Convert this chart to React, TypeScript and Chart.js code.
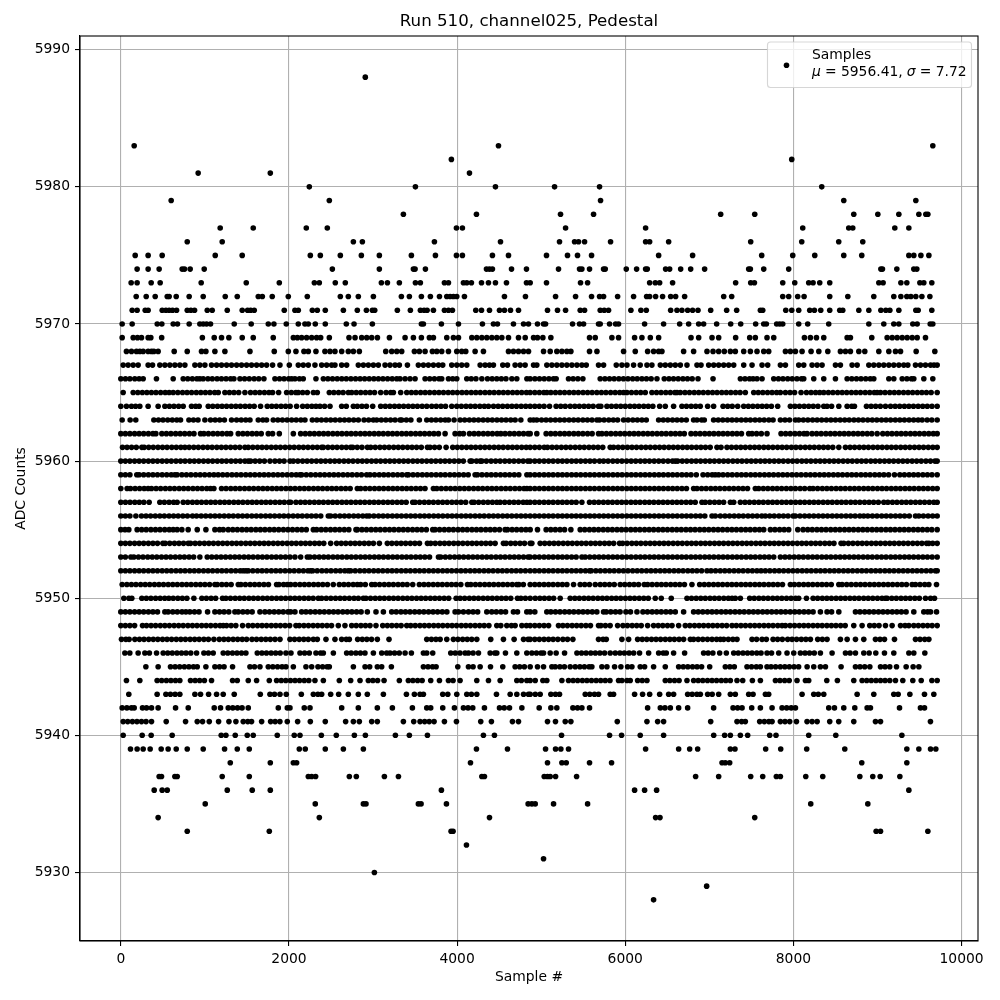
import React, { useEffect, useRef } from "react";
import { Chart, registerables } from "chart.js";

Chart.register(...registerables);

const chartTitle = "Run 510, channel025, Pedestal";
const xAxisTitle = "Sample #";
const yAxisTitle = "ADC Counts";
const legendLine1 = "Samples";
const legendMu = "5956.41";
const legendSigma = "7.72";
const xTicks = [0, 2000, 4000, 6000, 8000, 10000];
const yTicks = [5930, 5940, 5950, 5960, 5970, 5980, 5990];

const row5988 = [2908];
const row5983 = [159, 4492, 9658];
const row5982 = [3932, 7980];
const row5981 = [920, 1778, 4147];
const row5980 = [2242, 3504, 4456, 5159, 5694, 8337];
const row5979 = [599, 2480, 5706, 8599, 9456];
const row5978 = [3361, 4230, 5230, 5623, 7135, 7540, 8718, 9004, 9254, 9492, 9575, 9599];
const row5977 = [1182, 1575, 2206, 2456, 3992, 4063, 5290, 6242, 8111, 8658, 8706, 9206, 9373];
const row5976 = [790, 1206, 2766, 2873, 3730, 4516, 5218, 5397, 5444, 5516, 5825, 6242, 6290, 6516, 7492, 8099, 8539, 8825];
const row5975 = [171, 325, 492, 1123, 1444, 2254, 2373, 2611, 2861, 3075, 3456, 3742, 3992, 4063, 4420, 4611, 5063, 5313, 5432, 5599, 6397, 6801, 7623, 7992, 8254, 8599, 8813, 9373, 9432, 9516, 9611];
const row5974 = [194, 325, 456, 730, 758, 825, 992, 2516, 3075, 3480, 3500, 3623, 4349, 4385, 4420, 4647, 4825, 5206, 5456, 5484, 5575, 5742, 5762, 6012, 6135, 6242, 6262, 6480, 6528, 6659, 6778, 6944, 7468, 7488, 7647, 7944, 9040, 9059, 9230, 9432, 9468];
const row5973 = [123, 194, 361, 468, 956, 1492, 1885, 2302, 2361, 2551, 2670, 3099, 3171, 3313, 3504, 3563, 3849, 3897, 4075, 4115, 4170, 4290, 4373, 4456, 4587, 4825, 4869, 5063, 5468, 5552, 6290, 6357, 6409, 6563, 7313, 7492, 7536, 7873, 8016, 8182, 8234, 8313, 8432, 9016, 9067, 9278, 9349, 9504, 9551, 9646];
const row5972 = [183, 302, 409, 552, 575, 659, 813, 980, 1242, 1385, 1635, 1683, 1801, 1992, 2218, 2611, 2706, 2825, 3004, 3337, 3432, 3575, 3682, 3790, 3877, 3917, 3956, 3996, 4087, 4563, 4813, 5171, 5409, 5599, 5694, 5742, 5909, 6099, 6254, 6290, 6361, 6444, 6540, 6599, 6706, 7171, 7266, 7873, 7944, 8051, 8127, 8432, 8647, 8956, 9194, 9278, 9349, 9397, 9456, 9528, 9623];
const row5971 = [135, 194, 290, 325, 492, 536, 575, 615, 663, 790, 833, 877, 1028, 1087, 1266, 1444, 1508, 1544, 1587, 1944, 2071, 2111, 2278, 2337, 2432, 2647, 2813, 2921, 2992, 3020, 3289, 3444, 3563, 3607, 3643, 3718, 3849, 3897, 3944, 4222, 4290, 4385, 4504, 4563, 4635, 4730, 5075, 5194, 5290, 5464, 5516, 5702, 5750, 5801, 6067, 6186, 6250, 6540, 6615, 6674, 6742, 6801, 6865, 7016, 7206, 7325, 7607, 7635, 7909, 7980, 8063, 8194, 8250, 8325, 8432, 8551, 8587, 8778, 8897, 9040, 9099, 9147, 9254, 9456, 9484, 9646];
const row5970 = [16, 135, 433, 488, 623, 674, 813, 940, 980, 1020, 1067, 1349, 1551, 1754, 1821, 1968, 2111, 2190, 2230, 2313, 2432, 2682, 2774, 2992, 3575, 3599, 3813, 4016, 4301, 4432, 4480, 4670, 4790, 4849, 4956, 5028, 5052, 5373, 5456, 5504, 5682, 5702, 5813, 5885, 5920, 6230, 6456, 6647, 6754, 6873, 6932, 7087, 7254, 7373, 7551, 7647, 7678, 7801, 7837, 7873, 8063, 8170, 8420, 8897, 9075, 9194, 9254, 9420, 9472, 9627, 9658];
const row5969 = [16, 147, 198, 246, 325, 357, 486, 970, 1111, 1198, 1285, 1444, 1575, 1813, 2052, 2100, 2151, 2210, 2270, 2329, 2377, 2480, 2714, 2786, 2865, 2925, 2984, 3052, 3195, 3381, 3480, 3575, 3670, 3718, 3877, 3956, 4016, 4175, 4234, 4294, 4353, 4413, 4472, 4532, 4611, 4730, 4810, 4909, 4956, 5020, 5115, 5575, 5643, 5841, 5920, 6111, 6198, 6298, 6397, 6782, 6873, 7032, 7111, 7313, 7480, 7547, 7686, 7766, 8131, 8202, 8274, 8361, 8639, 8678, 8932, 9115, 9175, 9234, 9294, 9353, 9413, 9472, 9571];
const row5968 = [67, 127, 186, 226, 266, 325, 365, 393, 444, 635, 790, 960, 1012, 1119, 1238, 1536, 1825, 1992, 2083, 2178, 2230, 2321, 2428, 2488, 2547, 2627, 2706, 2766, 2837, 3151, 3222, 3282, 3341, 3492, 3551, 3619, 3706, 3758, 3817, 3897, 3996, 4055, 4103, 4214, 4313, 4611, 4670, 4730, 4790, 4849, 5028, 5107, 5186, 5246, 5305, 5353, 5575, 5663, 5980, 6119, 6266, 6337, 6397, 6436, 6694, 6813, 6972, 7044, 7111, 7178, 7250, 7309, 7409, 7488, 7567, 7647, 7706, 7905, 7964, 8024, 8103, 8210, 8302, 8409, 8559, 8619, 8678, 8778, 8849, 9016, 9135, 9214, 9274, 9460, 9682];
const row5967 = [28, 87, 147, 206, 325, 377, 464, 524, 583, 643, 702, 762, 881, 940, 1000, 1079, 1139, 1198, 1258, 1317, 1377, 1436, 1496, 1555, 1615, 1675, 1734, 1805, 1893, 2004, 2111, 2170, 2230, 2309, 2389, 2448, 2508, 2547, 2627, 2686, 2825, 2885, 2944, 3004, 3063, 3143, 3202, 3262, 3313, 3409, 3539, 3599, 3658, 3718, 3778, 3829, 3936, 3996, 4055, 4115, 4274, 4333, 4385, 4432, 4543, 4599, 4690, 4750, 4809, 4909, 4948, 5067, 5127, 5186, 5246, 5305, 5365, 5425, 5484, 5536, 5682, 5742, 5893, 5960, 6020, 6099, 6178, 6258, 6317, 6417, 6476, 6536, 6595, 6655, 6734, 6853, 6901, 6992, 7052, 7111, 7171, 7230, 7290, 7409, 7508, 7627, 7694, 7845, 7905, 8063, 8123, 8222, 8282, 8341, 8500, 8559, 8698, 8758, 8897, 8956, 9016, 9075, 9135, 9194, 9254, 9313, 9361, 9452, 9512, 9571, 9631, 9672, 9710];
const row5966 = [0, 55, 108, 166, 218, 266, 424, 623, 742, 796, 851, 905, 940, 980, 1036, 1088, 1145, 1197, 1252, 1306, 1345, 1417, 1472, 1528, 1586, 1641, 1702, 1833, 1888, 1942, 1997, 2032, 2071, 2125, 2170, 2321, 2409, 2463, 2518, 2574, 2628, 2682, 2737, 2792, 2846, 2900, 2955, 3010, 3064, 3118, 3173, 3228, 3282, 3321, 3381, 3440, 3500, 3619, 3674, 3730, 3785, 3817, 3897, 3948, 3996, 4115, 4168, 4224, 4294, 4361, 4417, 4472, 4526, 4581, 4651, 4710, 4830, 4869, 4925, 4980, 5036, 5092, 5146, 5178, 5325, 5380, 5436, 5496, 5702, 5758, 5813, 5868, 5924, 5978, 6032, 6088, 6142, 6198, 6252, 6308, 6377, 6464, 6520, 6574, 6630, 6686, 6740, 6796, 6865, 7044, 7369, 7424, 7478, 7520, 7567, 7627, 7766, 7822, 7876, 7932, 7986, 8042, 8096, 8123, 8242, 8361, 8500, 8639, 8694, 8750, 8804, 8860, 8914, 8956, 9135, 9194, 9294, 9350, 9404, 9432, 9551, 9658];
const row5965 = [28, 147, 202, 256, 310, 364, 418, 474, 528, 575, 623, 678, 734, 788, 842, 898, 952, 1006, 1060, 1116, 1159, 1238, 1292, 1346, 1402, 1476, 1543, 1598, 1652, 1708, 1762, 1805, 1877, 1972, 2028, 2082, 2111, 2163, 2218, 2290, 2337, 2480, 2534, 2590, 2644, 2706, 2746, 2800, 2854, 2910, 2964, 3018, 3091, 3155, 3210, 3242, 3329, 3401, 3456, 3510, 3566, 3620, 3674, 3730, 3784, 3838, 3894, 3948, 4002, 4058, 4112, 4168, 4222, 4276, 4332, 4386, 4440, 4496, 4550, 4604, 4660, 4714, 4768, 4824, 4869, 4924, 4978, 5032, 5067, 5115, 5170, 5224, 5278, 5334, 5388, 5442, 5498, 5552, 5606, 5662, 5716, 5770, 5826, 5880, 5934, 5980, 6020, 6074, 6130, 6184, 6238, 6317, 6372, 6426, 6482, 6536, 6590, 6615, 6655, 6710, 6764, 6820, 6874, 6928, 6984, 7038, 7092, 7148, 7202, 7256, 7312, 7366, 7428, 7528, 7582, 7636, 7692, 7746, 7800, 7845, 7905, 7960, 8014, 8091, 8155, 8210, 8264, 8313, 8361, 8416, 8470, 8526, 8580, 8634, 8690, 8744, 8798, 8854, 8908, 8962, 8996, 9036, 9090, 9146, 9200, 9254, 9310, 9364, 9418, 9474, 9528, 9582, 9638, 9710];
const row5964 = [0, 67, 127, 176, 226, 325, 444, 524, 578, 632, 688, 742, 841, 890, 932, 1040, 1094, 1150, 1204, 1258, 1314, 1368, 1422, 1478, 1532, 1586, 1662, 1742, 1796, 1850, 1906, 1960, 2014, 2091, 2163, 2218, 2272, 2321, 2369, 2424, 2488, 2627, 2682, 2766, 2813, 2868, 2922, 2996, 3091, 3146, 3200, 3256, 3310, 3364, 3420, 3474, 3528, 3584, 3639, 3698, 3752, 3808, 3862, 3936, 3996, 4050, 4106, 4160, 4214, 4270, 4324, 4373, 4433, 4488, 4542, 4598, 4652, 4706, 4762, 4816, 4869, 4924, 4978, 5034, 5099, 5178, 5232, 5286, 5345, 5400, 5454, 5510, 5564, 5618, 5682, 5710, 5782, 5836, 5892, 5946, 6000, 6056, 6110, 6164, 6220, 6274, 6328, 6409, 6476, 6575, 6674, 6728, 6784, 6838, 6892, 6980, 7051, 7163, 7218, 7272, 7337, 7409, 7464, 7518, 7574, 7628, 7682, 7738, 7813, 7964, 8018, 8072, 8128, 8182, 8236, 8292, 8361, 8400, 8454, 8540, 8639, 8694, 8726, 8869, 8924, 8978, 9034, 9095, 9155, 9210, 9264, 9320, 9374, 9428, 9484, 9538, 9592, 9648, 9710];
const row5963 = [16, 111, 178, 393, 448, 502, 558, 612, 666, 710, 810, 864, 918, 1000, 1067, 1122, 1176, 1232, 1317, 1377, 1432, 1486, 1536, 1635, 1690, 1734, 1813, 1868, 1922, 1978, 2032, 2086, 2142, 2190, 2278, 2332, 2386, 2442, 2496, 2550, 2606, 2660, 2714, 2770, 2825, 2893, 2948, 3004, 3044, 3098, 3152, 3208, 3262, 3321, 3341, 3396, 3450, 3551, 3639, 3694, 3748, 3804, 3858, 3897, 3964, 4036, 4090, 4146, 4200, 4254, 4310, 4364, 4418, 4474, 4528, 4582, 4638, 4690, 4758, 4869, 4909, 4948, 5004, 5058, 5112, 5168, 5222, 5276, 5332, 5386, 5440, 5496, 5550, 5604, 5663, 5694, 5748, 5804, 5858, 5909, 5980, 6034, 6090, 6144, 6198, 6250, 6397, 6452, 6506, 6562, 6616, 6670, 6726, 6813, 6853, 6908, 6940, 7051, 7106, 7160, 7216, 7270, 7324, 7380, 7434, 7488, 7544, 7598, 7652, 7708, 7758, 7845, 7900, 7954, 8024, 8063, 8118, 8172, 8228, 8282, 8336, 8392, 8446, 8500, 8556, 8610, 8664, 8720, 8774, 8828, 8884, 8938, 8992, 9048, 9102, 9156, 9212, 9266, 9320, 9376, 9430, 9484, 9531, 9591, 9646, 9710];
const row5962 = [0, 54, 108, 164, 218, 272, 328, 382, 417, 488, 542, 596, 652, 706, 760, 816, 870, 948, 988, 1042, 1098, 1152, 1206, 1262, 1306, 1397, 1452, 1506, 1562, 1616, 1670, 1754, 1805, 1885, 2052, 2139, 2194, 2248, 2302, 2358, 2412, 2466, 2522, 2576, 2630, 2686, 2740, 2794, 2850, 2904, 2958, 3014, 3068, 3122, 3178, 3232, 3286, 3342, 3396, 3450, 3506, 3560, 3614, 3670, 3724, 3778, 3857, 3976, 4030, 4075, 4147, 4202, 4256, 4312, 4366, 4420, 4476, 4520, 4571, 4626, 4680, 4736, 4790, 4844, 4869, 4948, 5059, 5114, 5168, 5224, 5278, 5332, 5388, 5442, 5496, 5552, 5606, 5682, 5722, 5776, 5830, 5886, 5940, 5994, 6050, 6104, 6158, 6214, 6268, 6322, 6378, 6432, 6486, 6542, 6596, 6650, 6702, 6782, 6836, 6890, 6946, 7000, 7054, 7110, 7164, 7218, 7274, 7328, 7382, 7468, 7508, 7562, 7618, 7686, 7853, 7908, 7962, 8018, 8072, 8126, 8162, 8222, 8276, 8330, 8386, 8440, 8494, 8550, 8604, 8658, 8714, 8768, 8822, 8878, 8932, 8996, 9063, 9118, 9172, 9228, 9282, 9336, 9392, 9446, 9500, 9556, 9610, 9664, 9710];
const row5961 = [20, 74, 128, 184, 250, 278, 332, 386, 442, 496, 550, 606, 660, 714, 762, 813, 868, 922, 978, 1032, 1086, 1142, 1196, 1250, 1306, 1360, 1414, 1476, 1516, 1570, 1626, 1680, 1734, 1790, 1844, 1898, 1954, 2008, 2062, 2118, 2172, 2226, 2282, 2336, 2389, 2409, 2464, 2518, 2572, 2628, 2682, 2734, 2758, 2812, 2868, 2933, 2972, 3026, 3082, 3136, 3190, 3246, 3300, 3354, 3410, 3464, 3518, 3574, 3647, 3678, 3732, 3788, 3869, 3948, 4002, 4056, 4112, 4166, 4220, 4276, 4330, 4384, 4440, 4494, 4548, 4604, 4658, 4712, 4768, 4822, 4869, 4924, 4978, 5036, 5075, 5130, 5184, 5240, 5294, 5348, 5404, 5458, 5512, 5568, 5622, 5676, 5732, 5821, 5861, 5916, 5970, 6026, 6080, 6134, 6190, 6244, 6298, 6354, 6408, 6462, 6518, 6572, 6626, 6682, 6736, 6790, 6846, 6900, 6954, 7010, 7091, 7139, 7210, 7264, 7320, 7374, 7428, 7484, 7538, 7592, 7648, 7702, 7756, 7812, 7866, 7920, 7976, 8030, 8084, 8140, 8194, 8248, 8304, 8358, 8412, 8468, 8540, 8619, 8674, 8728, 8784, 8838, 8892, 8948, 9002, 9056, 9112, 9166, 9220, 9276, 9330, 9384, 9440, 9494, 9548, 9604, 9658, 9710];
const row5960 = [0, 54, 108, 164, 218, 272, 328, 382, 436, 492, 546, 600, 656, 710, 764, 820, 874, 928, 984, 1038, 1092, 1148, 1202, 1256, 1312, 1366, 1420, 1476, 1516, 1544, 1598, 1652, 1708, 1774, 1833, 1888, 1942, 2012, 2052, 2106, 2162, 2216, 2270, 2326, 2380, 2434, 2490, 2544, 2598, 2654, 2708, 2762, 2818, 2872, 2926, 2982, 3036, 3090, 3146, 3200, 3254, 3310, 3364, 3418, 3474, 3528, 3582, 3638, 3692, 3746, 3802, 3856, 3910, 3966, 4020, 4074, 4155, 4175, 4230, 4274, 4294, 4348, 4404, 4458, 4512, 4568, 4622, 4676, 4732, 4786, 4840, 4869, 4924, 4978, 5034, 5088, 5142, 5198, 5252, 5306, 5362, 5416, 5470, 5526, 5580, 5634, 5694, 5742, 5796, 5852, 5906, 5960, 6016, 6070, 6124, 6180, 6234, 6288, 6344, 6398, 6452, 6508, 6562, 6595, 6623, 6678, 6732, 6788, 6842, 6896, 6952, 7006, 7060, 7116, 7170, 7224, 7280, 7334, 7388, 7444, 7498, 7552, 7608, 7662, 7716, 7772, 7826, 7880, 7936, 7990, 8044, 8100, 8154, 8208, 8264, 8318, 8372, 8428, 8482, 8536, 8592, 8646, 8700, 8756, 8810, 8864, 8920, 8974, 9028, 9084, 9138, 9192, 9248, 9302, 9356, 9412, 9466, 9520, 9576, 9630, 9684, 9710];
const row5959 = [0, 54, 108, 190, 218, 272, 328, 382, 436, 492, 546, 600, 643, 670, 726, 780, 834, 890, 944, 998, 1054, 1107, 1158, 1212, 1266, 1322, 1376, 1430, 1486, 1540, 1594, 1650, 1704, 1758, 1814, 1868, 1922, 1978, 2032, 2086, 2131, 2151, 2206, 2260, 2316, 2370, 2424, 2480, 2534, 2588, 2644, 2698, 2752, 2808, 2862, 2924, 2964, 3018, 3074, 3128, 3182, 3238, 3292, 3346, 3401, 3421, 3476, 3530, 3586, 3640, 3694, 3750, 3804, 3858, 3914, 3968, 4022, 4078, 4132, 4214, 4242, 4296, 4352, 4406, 4460, 4516, 4570, 4624, 4680, 4734, 4830, 4869, 4924, 4978, 5034, 5088, 5142, 5198, 5252, 5306, 5362, 5416, 5470, 5526, 5580, 5634, 5690, 5744, 5798, 5854, 5908, 5962, 6018, 6072, 6126, 6182, 6236, 6290, 6346, 6400, 6454, 6510, 6564, 6618, 6674, 6728, 6782, 6845, 6925, 6980, 7034, 7071, 7111, 7163, 7218, 7272, 7328, 7382, 7436, 7492, 7546, 7600, 7656, 7710, 7764, 7820, 7874, 7928, 7984, 8038, 8092, 8148, 8202, 8256, 8312, 8366, 8420, 8476, 8530, 8584, 8640, 8694, 8748, 8804, 8858, 8912, 8968, 9022, 9076, 9132, 9202, 9266, 9320, 9376, 9430, 9484, 9540, 9594, 9648, 9710];
const row5958 = [0, 75, 115, 170, 224, 278, 325, 365, 420, 474, 530, 584, 638, 694, 748, 802, 858, 912, 966, 1022, 1067, 1107, 1198, 1252, 1308, 1362, 1416, 1472, 1526, 1580, 1636, 1690, 1744, 1800, 1854, 1908, 1964, 2018, 2072, 2128, 2182, 2236, 2292, 2346, 2400, 2456, 2510, 2564, 2620, 2674, 2728, 2813, 2853, 2908, 2962, 3018, 3072, 3126, 3182, 3236, 3290, 3346, 3400, 3454, 3510, 3564, 3618, 3718, 3758, 3812, 3868, 3922, 3976, 4032, 4086, 4140, 4196, 4250, 4304, 4360, 4414, 4468, 4524, 4578, 4632, 4688, 4742, 4796, 4830, 4869, 4924, 4978, 5034, 5088, 5142, 5198, 5252, 5306, 5362, 5416, 5470, 5526, 5580, 5634, 5690, 5744, 5798, 5854, 5908, 5962, 6018, 6072, 6126, 6182, 6236, 6290, 6346, 6400, 6454, 6510, 6564, 6618, 6674, 6728, 6813, 6853, 6908, 6962, 7018, 7072, 7126, 7182, 7236, 7290, 7346, 7400, 7454, 7547, 7587, 7642, 7696, 7752, 7806, 7860, 7916, 7970, 8024, 8080, 8134, 8194, 8234, 8288, 8344, 8398, 8452, 8508, 8562, 8616, 8672, 8726, 8780, 8836, 8890, 8944, 9000, 9054, 9108, 9164, 9218, 9272, 9328, 9382, 9436, 9492, 9546, 9600, 9656, 9710];
const row5957 = [0, 55, 110, 166, 220, 274, 337, 464, 518, 574, 628, 670, 742, 796, 852, 906, 960, 1016, 1070, 1124, 1180, 1234, 1288, 1344, 1398, 1452, 1508, 1562, 1616, 1672, 1726, 1780, 1836, 1890, 1944, 2000, 2020, 2083, 2138, 2192, 2246, 2302, 2356, 2410, 2466, 2520, 2574, 2630, 2684, 2738, 2794, 2848, 2902, 2958, 3012, 3066, 3122, 3176, 3230, 3286, 3340, 3394, 3472, 3500, 3554, 3610, 3664, 3718, 3774, 3828, 3882, 3938, 3992, 4046, 4102, 4175, 4202, 4256, 4312, 4366, 4420, 4472, 4512, 4566, 4622, 4676, 4730, 4786, 4830, 4869, 4924, 4978, 5034, 5088, 5142, 5198, 5252, 5306, 5362, 5416, 5484, 5575, 5630, 5684, 5740, 5794, 5848, 5904, 5958, 6012, 6068, 6122, 6176, 6232, 6286, 6340, 6396, 6450, 6504, 6560, 6614, 6668, 6724, 6778, 6832, 6912, 6952, 7006, 7062, 7116, 7170, 7250, 7290, 7369, 7424, 7478, 7534, 7588, 7642, 7698, 7752, 7806, 7862, 7916, 7970, 8026, 8080, 8134, 8190, 8244, 8298, 8354, 8408, 8462, 8518, 8572, 8626, 8682, 8736, 8790, 8846, 8900, 8954, 9010, 9075, 9123, 9178, 9232, 9288, 9342, 9396, 9452, 9506, 9560, 9616, 9670, 9710];
const row5956 = [0, 54, 108, 179, 246, 300, 354, 410, 464, 518, 574, 628, 682, 738, 792, 853, 901, 956, 1010, 1066, 1120, 1174, 1230, 1284, 1338, 1394, 1448, 1502, 1558, 1612, 1666, 1722, 1776, 1830, 1886, 1940, 1994, 2050, 2104, 2158, 2214, 2268, 2322, 2378, 2468, 2496, 2550, 2606, 2660, 2714, 2770, 2824, 2878, 2925, 2956, 3010, 3066, 3120, 3174, 3230, 3284, 3338, 3394, 3448, 3502, 3558, 3612, 3666, 3722, 3776, 3830, 3886, 3940, 3994, 4050, 4104, 4158, 4214, 4268, 4322, 4378, 4432, 4486, 4542, 4596, 4650, 4706, 4760, 4814, 4869, 4924, 4978, 5034, 5088, 5142, 5198, 5252, 5306, 5362, 5416, 5470, 5526, 5580, 5634, 5690, 5744, 5798, 5854, 5908, 5962, 6018, 6072, 6126, 6182, 6236, 6290, 6346, 6400, 6454, 6510, 6564, 6618, 6674, 6728, 6782, 6838, 6892, 6946, 7032, 7071, 7131, 7186, 7240, 7296, 7350, 7404, 7460, 7514, 7568, 7624, 7666, 7718, 7772, 7828, 7882, 7936, 7996, 8024, 8078, 8134, 8188, 8242, 8298, 8352, 8406, 8462, 8516, 8570, 8626, 8680, 8734, 8790, 8837, 8885, 8940, 8994, 9050, 9104, 9158, 9214, 9268, 9322, 9378, 9452, 9492, 9546, 9602, 9656, 9710];
const row5955 = [0, 50, 95, 194, 248, 302, 358, 412, 466, 522, 576, 623, 670, 726, 801, 909, 1012, 1119, 1174, 1218, 1278, 1332, 1386, 1442, 1496, 1550, 1606, 1660, 1714, 1770, 1824, 1878, 1934, 1988, 2042, 2098, 2152, 2206, 2290, 2329, 2384, 2438, 2494, 2548, 2602, 2658, 2712, 2797, 2813, 2868, 2922, 2978, 3032, 3086, 3142, 3196, 3250, 3306, 3360, 3414, 3470, 3524, 3578, 3634, 3710, 3738, 3792, 3848, 3902, 3956, 4012, 4066, 4120, 4176, 4230, 4284, 4340, 4394, 4448, 4504, 4571, 4599, 4654, 4708, 4764, 4818, 4869, 4956, 5059, 5114, 5168, 5224, 5278, 5353, 5464, 5518, 5574, 5628, 5682, 5738, 5792, 5846, 5902, 5956, 6010, 6066, 6120, 6174, 6230, 6284, 6338, 6394, 6448, 6502, 6558, 6612, 6666, 6722, 6776, 6830, 6886, 6940, 6994, 7050, 7104, 7158, 7214, 7268, 7322, 7378, 7432, 7486, 7542, 7596, 7647, 7726, 7780, 7836, 7890, 7944, 8052, 8115, 8170, 8224, 8280, 8334, 8388, 8444, 8498, 8552, 8608, 8662, 8716, 8772, 8826, 8880, 8936, 8990, 9044, 9100, 9154, 9208, 9264, 9318, 9372, 9428, 9482, 9536, 9592, 9646, 9710];
const row5954 = [0, 54, 108, 164, 218, 272, 328, 382, 436, 500, 528, 582, 638, 692, 746, 802, 829, 884, 938, 994, 1048, 1102, 1158, 1212, 1266, 1322, 1376, 1430, 1486, 1540, 1594, 1650, 1704, 1758, 1814, 1868, 1922, 1978, 2032, 2086, 2142, 2196, 2250, 2306, 2360, 2414, 2496, 2567, 2622, 2676, 2732, 2786, 2840, 2896, 2950, 3004, 3075, 3170, 3224, 3280, 3334, 3388, 3444, 3498, 3552, 3647, 3686, 3740, 3796, 3850, 3904, 3960, 4014, 4068, 4124, 4178, 4232, 4288, 4342, 4396, 4452, 4551, 4583, 4638, 4692, 4748, 4802, 4869, 4889, 4988, 5042, 5098, 5152, 5206, 5262, 5316, 5370, 5426, 5480, 5534, 5590, 5644, 5698, 5754, 5808, 5862, 5932, 5968, 6022, 6078, 6132, 6186, 6242, 6296, 6350, 6406, 6460, 6514, 6570, 6624, 6678, 6734, 6788, 6842, 6898, 6952, 7006, 7062, 7116, 7170, 7226, 7280, 7334, 7390, 7444, 7498, 7554, 7608, 7662, 7718, 7772, 7826, 7882, 7936, 7990, 8046, 8100, 8154, 8210, 8264, 8318, 8374, 8428, 8482, 8567, 8599, 8654, 8708, 8764, 8818, 8872, 8928, 8982, 9036, 9092, 9146, 9200, 9256, 9310, 9364, 9420, 9474, 9528, 9584, 9611, 9656, 9710];
const row5953 = [0, 54, 119, 155, 210, 264, 320, 374, 428, 484, 538, 592, 648, 702, 756, 812, 866, 940, 1028, 1082, 1138, 1192, 1246, 1302, 1356, 1410, 1466, 1520, 1574, 1630, 1684, 1738, 1794, 1848, 1902, 1958, 2012, 2071, 2139, 2218, 2250, 2304, 2360, 2414, 2468, 2524, 2578, 2632, 2688, 2742, 2796, 2852, 2906, 2960, 3016, 3070, 3124, 3180, 3234, 3288, 3344, 3398, 3452, 3508, 3562, 3616, 3672, 3778, 3805, 3860, 3914, 3970, 4024, 4078, 4134, 4188, 4242, 4298, 4352, 4406, 4462, 4516, 4570, 4626, 4680, 4734, 4790, 4844, 4869, 4924, 4978, 5034, 5088, 5142, 5198, 5252, 5306, 5362, 5416, 5484, 5524, 5578, 5634, 5688, 5742, 5798, 5852, 5906, 5962, 6016, 6070, 6126, 6180, 6234, 6290, 6344, 6398, 6454, 6508, 6562, 6618, 6672, 6726, 6782, 6836, 6890, 6946, 7000, 7054, 7110, 7164, 7218, 7274, 7328, 7382, 7438, 7492, 7546, 7602, 7656, 7710, 7766, 7845, 7900, 7954, 8010, 8064, 8118, 8174, 8228, 8282, 8338, 8392, 8446, 8502, 8556, 8610, 8666, 8720, 8774, 8830, 8884, 8938, 8994, 9048, 9102, 9158, 9212, 9266, 9322, 9376, 9430, 9486, 9540, 9594, 9650, 9710];
const row5952 = [0, 54, 108, 164, 218, 272, 328, 382, 436, 492, 546, 600, 656, 710, 764, 820, 874, 928, 984, 1038, 1092, 1148, 1202, 1256, 1312, 1366, 1420, 1456, 1488, 1516, 1570, 1626, 1680, 1734, 1790, 1844, 1898, 1954, 2008, 2062, 2118, 2172, 2226, 2258, 2282, 2336, 2392, 2446, 2500, 2556, 2610, 2664, 2706, 2734, 2788, 2844, 2898, 2952, 3008, 3062, 3116, 3172, 3226, 3280, 3336, 3390, 3444, 3500, 3554, 3608, 3664, 3718, 3772, 3828, 3882, 3936, 3992, 4046, 4100, 4156, 4210, 4264, 4320, 4374, 4428, 4484, 4538, 4592, 4648, 4702, 4756, 4812, 4869, 4924, 4978, 5034, 5088, 5142, 5198, 5252, 5306, 5362, 5416, 5470, 5526, 5575, 5595, 5650, 5704, 5760, 5814, 5868, 5924, 5978, 6032, 6088, 6142, 6196, 6252, 6306, 6360, 6416, 6470, 6524, 6580, 6634, 6688, 6744, 6798, 6852, 6908, 6972, 7020, 7074, 7130, 7184, 7238, 7294, 7348, 7402, 7458, 7512, 7566, 7615, 7666, 7720, 7776, 7830, 7884, 7940, 7994, 8048, 8104, 8158, 8212, 8268, 8322, 8376, 8432, 8486, 8540, 8596, 8650, 8704, 8760, 8814, 8868, 8924, 8978, 9032, 9088, 9142, 9196, 9252, 9306, 9360, 9416, 9470, 9524, 9580, 9634, 9688, 9710];
const row5951 = [16, 72, 126, 180, 236, 290, 344, 400, 454, 508, 564, 618, 672, 728, 782, 836, 892, 946, 1000, 1056, 1119, 1147, 1202, 1256, 1312, 1397, 1428, 1482, 1538, 1592, 1646, 1702, 1756, 1853, 1881, 1936, 1980, 2020, 2074, 2130, 2184, 2238, 2294, 2348, 2402, 2458, 2527, 2599, 2654, 2708, 2764, 2813, 2853, 2908, 2984, 3024, 3078, 3134, 3188, 3242, 3298, 3352, 3406, 3472, 3551, 3606, 3660, 3716, 3770, 3824, 3880, 3934, 3988, 4044, 4123, 4163, 4218, 4272, 4328, 4382, 4436, 4492, 4546, 4600, 4656, 4710, 4734, 4788, 4869, 4924, 4978, 5034, 5088, 5142, 5198, 5252, 5306, 5385, 5464, 5518, 5574, 5643, 5702, 5756, 5812, 5869, 5940, 5994, 6050, 6104, 6158, 6226, 6266, 6320, 6376, 6430, 6484, 6540, 6594, 6648, 6704, 6793, 6885, 6940, 6994, 7050, 7104, 7158, 7214, 7268, 7322, 7378, 7432, 7486, 7542, 7596, 7650, 7706, 7760, 7814, 7870, 7964, 8012, 8066, 8122, 8176, 8230, 8286, 8340, 8394, 8450, 8540, 8579, 8634, 8688, 8744, 8798, 8852, 8908, 8962, 9016, 9072, 9126, 9180, 9236, 9290, 9344, 9412, 9452, 9506, 9562, 9611, 9702];
const row5950 = [36, 96, 131, 250, 304, 358, 414, 468, 522, 571, 623, 678, 732, 786, 869, 964, 1018, 1074, 1128, 1210, 1250, 1304, 1360, 1414, 1468, 1524, 1578, 1632, 1688, 1742, 1796, 1852, 1906, 1960, 2016, 2070, 2124, 2180, 2234, 2288, 2349, 2389, 2444, 2498, 2554, 2608, 2662, 2718, 2774, 2825, 2885, 2916, 2970, 3026, 3080, 3134, 3190, 3244, 3298, 3354, 3408, 3462, 3518, 3572, 3626, 3682, 3736, 3790, 3846, 3900, 3988, 4036, 4090, 4146, 4200, 4254, 4310, 4364, 4418, 4474, 4528, 4582, 4638, 4718, 4758, 4812, 4869, 4929, 4984, 5038, 5094, 5148, 5226, 5345, 5400, 5454, 5510, 5564, 5618, 5674, 5728, 5782, 5838, 5892, 5946, 6002, 6056, 6110, 6166, 6220, 6274, 6357, 6428, 6547, 6734, 6788, 6844, 6898, 6952, 7008, 7062, 7116, 7172, 7226, 7270, 7309, 7369, 7480, 7534, 7590, 7644, 7698, 7754, 7808, 7862, 7918, 7972, 8026, 8063, 8155, 8234, 8288, 8344, 8398, 8452, 8508, 8562, 8616, 8672, 8726, 8780, 8836, 8890, 8944, 9000, 9054, 9095, 9115, 9170, 9224, 9280, 9334, 9388, 9444, 9498, 9571, 9631, 9678];
const row5949 = [0, 54, 108, 164, 218, 272, 328, 382, 436, 524, 563, 618, 672, 728, 774, 821, 876, 930, 1032, 1119, 1174, 1228, 1284, 1357, 1397, 1452, 1506, 1562, 1655, 1714, 1768, 1824, 1878, 1932, 1988, 2020, 2071, 2151, 2202, 2256, 2312, 2366, 2420, 2476, 2530, 2584, 2640, 2694, 2748, 2804, 2858, 2932, 3035, 3123, 3222, 3276, 3332, 3386, 3440, 3496, 3550, 3604, 3660, 3714, 3768, 3824, 3878, 3976, 4016, 4075, 4135, 4190, 4244, 4353, 4412, 4466, 4522, 4576, 4670, 4718, 4829, 4869, 4924, 5067, 5115, 5170, 5224, 5280, 5334, 5388, 5444, 5498, 5552, 5608, 5662, 5742, 5774, 5828, 5884, 5938, 6008, 6062, 6139, 6210, 6264, 6320, 6374, 6428, 6484, 6538, 6595, 6694, 6813, 6868, 6922, 6978, 7032, 7086, 7142, 7196, 7250, 7306, 7360, 7414, 7470, 7524, 7578, 7634, 7688, 7742, 7798, 7852, 7906, 7962, 8016, 8070, 8126, 8180, 8234, 8321, 8400, 8454, 8540, 8738, 8792, 8848, 8902, 8956, 9012, 9066, 9120, 9176, 9230, 9284, 9340, 9432, 9551, 9596, 9631, 9702];
const row5948 = [0, 54, 108, 164, 258, 306, 360, 414, 470, 524, 578, 634, 688, 742, 798, 852, 906, 962, 1016, 1070, 1126, 1180, 1218, 1258, 1312, 1368, 1448, 1516, 1570, 1626, 1680, 1734, 1790, 1844, 1898, 1954, 2008, 2083, 2123, 2178, 2232, 2288, 2342, 2396, 2452, 2506, 2587, 2666, 2746, 2800, 2856, 2910, 2964, 3035, 3115, 3170, 3224, 3280, 3334, 3401, 3448, 3502, 3558, 3612, 3666, 3722, 3776, 3830, 3886, 3940, 3994, 4050, 4104, 4158, 4214, 4268, 4322, 4378, 4472, 4520, 4591, 4646, 4690, 4770, 4824, 4869, 4924, 4978, 5034, 5088, 5206, 5258, 5312, 5368, 5422, 5476, 5532, 5586, 5682, 5710, 5764, 5820, 5909, 5972, 6026, 6082, 6136, 6190, 6266, 6337, 6392, 6446, 6502, 6556, 6635, 6714, 6768, 6824, 6878, 6932, 6988, 7042, 7096, 7152, 7206, 7270, 7321, 7376, 7430, 7486, 7540, 7594, 7650, 7704, 7758, 7814, 7865, 7905, 7960, 8014, 8070, 8124, 8178, 8234, 8288, 8342, 8398, 8452, 8506, 8562, 8616, 8718, 8817, 8908, 8962, 9018, 9095, 9174, 9274, 9328, 9373, 9432, 9486, 9542, 9596, 9650, 9710];
const row5947 = [8, 60, 99, 167, 222, 276, 332, 386, 440, 496, 550, 604, 660, 714, 768, 824, 878, 932, 988, 1042, 1107, 1171, 1226, 1280, 1336, 1390, 1444, 1496, 1560, 1614, 1670, 1724, 1778, 1834, 1893, 2012, 2066, 2122, 2176, 2230, 2290, 2337, 2440, 2547, 2627, 2682, 2718, 2817, 2872, 2926, 2982, 3051, 3190, 3639, 3694, 3748, 3798, 3877, 3956, 4010, 4066, 4120, 4174, 4234, 4400, 4551, 4678, 4790, 4844, 4869, 4924, 4978, 5034, 5088, 5142, 5198, 5258, 5313, 5377, 5682, 5736, 5774, 5960, 6040, 6147, 6202, 6256, 6312, 6366, 6420, 6476, 6530, 6584, 6640, 6694, 6774, 6813, 6868, 6922, 6978, 7032, 7086, 7131, 7171, 7226, 7280, 7329, 7508, 7562, 7627, 7678, 7758, 7812, 7868, 7932, 7984, 8038, 8094, 8148, 8202, 8289, 8344, 8400, 8559, 8639, 8738, 8837, 8976, 9030, 9083, 9202, 9452, 9506, 9562, 9611];
const row5946 = [48, 107, 206, 286, 340, 425, 504, 558, 612, 668, 722, 776, 832, 901, 988, 1042, 1099, 1218, 1272, 1328, 1382, 1436, 1488, 1623, 1678, 1732, 1788, 1842, 1896, 1964, 2024, 2131, 2186, 2242, 2321, 2376, 2409, 2528, 2686, 2740, 2796, 2850, 2904, 3004, 3103, 3162, 3202, 3256, 3312, 3381, 3456, 3599, 3639, 3710, 3924, 3978, 4034, 4095, 4135, 4190, 4254, 4393, 4448, 4472, 4575, 4710, 4829, 4889, 4944, 4998, 5028, 5107, 5178, 5278, 5425, 5480, 5534, 5590, 5644, 5698, 5754, 5821, 5881, 5936, 5990, 6046, 6100, 6170, 6278, 6397, 6452, 6488, 6575, 6706, 6932, 6986, 7042, 7123, 7202, 7290, 7344, 7400, 7454, 7508, 7564, 7615, 7686, 7740, 7825, 7924, 8004, 8083, 8138, 8192, 8248, 8321, 8460, 8619, 8674, 8738, 8837, 8901, 8980, 9083, 9194, 9373, 9432, 9563];
const row5945 = [298, 444, 591, 646, 700, 756, 810, 864, 909, 1012, 1119, 1174, 1228, 1329, 1536, 1590, 1655, 1754, 1808, 1864, 1918, 1964, 2052, 2202, 2270, 2345, 2400, 2454, 2480, 2766, 2905, 2960, 3051, 3103, 3218, 3599, 3654, 3708, 3750, 4008, 4135, 4190, 4274, 4397, 4543, 4690, 4744, 4800, 4869, 4956, 5028, 5127, 5167, 5222, 5276, 5345, 5405, 5460, 5514, 5570, 5603, 5722, 5782, 5873, 5948, 6028, 6079, 6178, 6230, 6337, 6476, 6635, 6690, 6744, 6800, 6854, 6908, 7004, 7190, 7244, 7297, 7448, 7502, 7559, 7607, 7686, 7734, 7788, 7844, 7898, 7952, 8008, 8062, 8163, 8242, 8321, 8381, 8567, 8738, 8792, 8848, 8909, 9036, 9090, 9146, 9226, 9341, 9424, 9492];
const row5944 = [67, 226, 432, 486, 542, 596, 650, 702, 829, 884, 938, 994, 1079, 1329, 1385, 1516, 1615, 1766, 1853, 1908, 1962, 2018, 2072, 2126, 2182, 2236, 2309, 2409, 2599, 2734, 2845, 2944, 2998, 3054, 3131, 3313, 3420, 3474, 3530, 3584, 3686, 3790, 3897, 3952, 4035, 4234, 4373, 4512, 4710, 4764, 4829, 4869, 4929, 5020, 5067, 5246, 5325, 5380, 5434, 5490, 5544, 5598, 5654, 5708, 5762, 5818, 5920, 5960, 6020, 6059, 6147, 6202, 6258, 6476, 6530, 6586, 6640, 6734, 6813, 6868, 6922, 6978, 7032, 7086, 7142, 7196, 7250, 7329, 7397, 7512, 7607, 7786, 7840, 7896, 7950, 8043, 8143, 8182, 8397, 8523, 8718, 8817, 8872, 8926, 8982, 9036, 9090, 9146, 9214, 9301, 9420, 9520, 9647, 9710];
const row5943 = [95, 432, 536, 590, 646, 702, 881, 948, 1044, 1139, 1218, 1349, 1659, 1774, 1828, 1893, 1968, 2147, 2290, 2344, 2389, 2496, 2591, 2706, 2825, 2932, 3123, 3397, 3492, 3559, 3599, 3829, 3889, 3996, 4115, 4170, 4234, 4468, 4631, 4710, 4790, 4849, 4869, 4930, 4988, 5115, 5170, 5218, 5524, 5578, 5634, 5682, 5821, 5861, 6111, 6206, 6290, 6409, 6516, 6575, 6742, 6796, 6852, 6893, 6980, 7034, 7111, 7250, 7309, 7468, 7520, 7667, 7706, 8103, 8242, 8296, 8361, 8758, 8956, 9194, 9246, 9385, 9559, 9670];
const row5942 = [16, 72, 126, 159, 258, 306, 365, 444, 651, 802, 1111, 1186, 1278, 1332, 1388, 1442, 1516, 1873, 1980, 2012, 2182, 2250, 2627, 2825, 3051, 3230, 3468, 3639, 3686, 3829, 3968, 4075, 4130, 4186, 4325, 4504, 4560, 4623, 4770, 4976, 5115, 5186, 5377, 5432, 5484, 5575, 6266, 6417, 6472, 6536, 6635, 6742, 7051, 7282, 7336, 7389, 7504, 7607, 7746, 7865, 7920, 7974, 8024, 8420, 8488, 8599, 8730, 8877, 8916, 9262, 9511, 9559];
const row5941 = [28, 82, 138, 192, 246, 300, 365, 540, 770, 909, 972, 1052, 1163, 1286, 1369, 1456, 1510, 1555, 1675, 1782, 1836, 1892, 1980, 2103, 2254, 2432, 2674, 2766, 2837, 2984, 3051, 3361, 3484, 3559, 3614, 3668, 3726, 3849, 3992, 4281, 4408, 4658, 4730, 5075, 5170, 5286, 5353, 5905, 6258, 6385, 6456, 7016, 7329, 7384, 7428, 7599, 7654, 7708, 7746, 7845, 7900, 7956, 8036, 8162, 8222, 8282, 8432, 8539, 8718, 8976, 9036, 9630];
const row5940 = [28, 254, 361, 611, 1194, 1250, 1361, 1504, 1575, 1861, 2063, 2131, 2385, 2563, 2778, 2909, 3266, 3432, 3647, 4313, 4444, 5242, 5813, 5956, 6178, 6456, 7052, 7182, 7250, 7369, 7456, 7718, 7793, 8182, 8504, 9290];
const row5939 = [115, 194, 266, 349, 480, 563, 659, 790, 980, 1234, 1385, 1528, 2123, 2194, 2432, 2647, 2885, 4230, 4599, 5052, 5171, 5234, 5325, 6242, 6635, 6766, 6861, 7250, 7305, 7670, 7849, 8158, 8611, 9349, 9492, 9631, 9694];
const row5938 = [1302, 1778, 2052, 2091, 4159, 5075, 5246, 5298, 5575, 5837, 7151, 7190, 7242, 8813, 9349];
const row5937 = [456, 484, 643, 671, 1206, 1528, 2230, 2270, 2317, 2718, 2801, 3135, 3302, 4294, 4325, 5036, 5075, 5107, 5171, 5421, 6837, 7111, 7492, 7635, 7797, 7845, 8147, 8349, 8790, 8944, 9032, 9266];
const row5936 = [397, 492, 552, 1266, 1563, 1778, 3813, 6111, 6230, 6373, 9373];
const row5935 = [1004, 2313, 2885, 2916, 3539, 3571, 3873, 4845, 4889, 4929, 5147, 5552, 8206, 8885];
const row5934 = [444, 2361, 4385, 6361, 6413, 7540];
const row5933 = [790, 1766, 3928, 3952, 8984, 9036, 9599];
const row5932 = [4111];
const row5931 = [5028];
const row5930 = [3016];
const row5929 = [6968];
const row5928 = [6337];

const adcLevels = [5988, 5983, 5982, 5981, 5980, 5979, 5978, 5977, 5976, 5975, 5974, 5973, 5972, 5971, 5970, 5969, 5968, 5967, 5966, 5965, 5964, 5963, 5962, 5961, 5960, 5959, 5958, 5957, 5956, 5955, 5954, 5953, 5952, 5951, 5950, 5949, 5948, 5947, 5946, 5945, 5944, 5943, 5942, 5941, 5940, 5939, 5938, 5937, 5936, 5935, 5934, 5933, 5932, 5931, 5930, 5929, 5928];
const sampleRows = [row5988, row5983, row5982, row5981, row5980, row5979, row5978, row5977, row5976, row5975, row5974, row5973, row5972, row5971, row5970, row5969, row5968, row5967, row5966, row5965, row5964, row5963, row5962, row5961, row5960, row5959, row5958, row5957, row5956, row5955, row5954, row5953, row5952, row5951, row5950, row5949, row5948, row5947, row5946, row5945, row5944, row5943, row5942, row5941, row5940, row5939, row5938, row5937, row5936, row5935, row5934, row5933, row5932, row5931, row5930, row5929, row5928];

const FONT = '"DejaVu Sans", sans-serif';
const INK = "#000000";
const GRID = "#b0b0b0";

const frameAndLegend = {
  id: "frameAndLegend",
  afterDraw(chart: any) {
    const { ctx, chartArea: a } = chart;
    ctx.save();
    ctx.strokeStyle = INK;
    ctx.lineWidth = 1.1;
    ctx.strokeRect(a.left, a.top, a.right - a.left, a.bottom - a.top);

    const bx = 767.5, by = 42, bw = 204, bh = 45.5, r = 3;
    ctx.beginPath();
    ctx.roundRect(bx, by, bw, bh, r);
    ctx.fillStyle = "rgba(255,255,255,0.8)";
    ctx.fill();
    ctx.strokeStyle = "rgba(204,204,204,0.8)";
    ctx.lineWidth = 1.1;
    ctx.stroke();

    ctx.beginPath();
    ctx.arc(786.5, 65.3, 2.8, 0, Math.PI * 2);
    ctx.fillStyle = INK;
    ctx.fill();

    ctx.fillStyle = INK;
    ctx.textBaseline = "alphabetic";
    ctx.textAlign = "left";
    const regular = `13.89px ${FONT}`;
    const italic = `italic 13.89px ${FONT}`;
    ctx.font = regular;
    ctx.fillText(legendLine1, 812, 59);
    let x = 812;
    const y = 76;
    const parts: [string, string][] = [
      [italic, "\u03bc"],
      [regular, ` = ${legendMu}, `],
      [italic, "\u03c3"],
      [regular, ` = ${legendSigma}`],
    ];
    for (const [font, text] of parts) {
      ctx.font = font;
      ctx.fillText(text, x, y);
      x += ctx.measureText(text).width - 0.35;
    }
    ctx.restore();
  },
};

export default function App() {
  const ref = useRef<HTMLCanvasElement>(null);
  useEffect(() => {
    document.body.style.margin = "0";
    const points = sampleRows.flatMap((xs, i) => xs.map((x) => ({ x, y: adcLevels[i] })));
    const chart = new Chart(ref.current as HTMLCanvasElement, {
      type: "scatter",
      data: {
        datasets: [
          {
            label: legendLine1,
            data: points,
            pointRadius: 2.8,
            pointBorderWidth: 0,
            pointBackgroundColor: INK,
            showLine: false,
          },
        ],
      },
      plugins: [frameAndLegend],
      options: {
        responsive: false,
        animation: false,
        parsing: false,
        normalized: true,
        layout: { padding: { left: 0, right: 22, top: 0, bottom: 0 } },
        plugins: {
          legend: { display: false },
          tooltip: { enabled: false },
          title: {
            display: true,
            text: chartTitle,
            fullSize: false,
            color: INK,
            font: { family: FONT, size: 16.67, weight: "normal" },
            padding: { top: 12, bottom: 4 },
          },
        },
        scales: {
          x: {
            type: "linear",
            min: -485.5,
            max: 10195.5,
            afterFit: (s: any) => { s.height = 59; },
            afterBuildTicks: (s: any) => { s.ticks = xTicks.map((value) => ({ value })); },
            title: { display: true, text: xAxisTitle, color: INK, font: { family: FONT, size: 13.89 }, padding: { top: 4, bottom: 14 } },
            border: { color: INK, width: 1.1 },
            grid: { color: GRID, lineWidth: 1.1, tickColor: INK, tickLength: 5, drawTicks: true },
            ticks: {
              autoSkip: false,
              color: INK,
              maxRotation: 0,
              padding: 5,
              font: { family: FONT, size: 13.89 },
              callback: (v: any) => String(v),
            },
          },
          y: {
            type: "linear",
            min: 5925,
            max: 5991,
            afterFit: (s: any) => { s.width = 80; },
            afterBuildTicks: (s: any) => { s.ticks = yTicks.map((value) => ({ value })); },
            title: { display: true, text: yAxisTitle, color: INK, font: { family: FONT, size: 13.89 }, padding: { top: 13, bottom: 4 } },
            border: { color: INK, width: 1.1 },
            grid: { color: GRID, lineWidth: 1.1, tickColor: INK, tickLength: 5, drawTicks: true },
            ticks: {
              autoSkip: false,
              color: INK,
              padding: 5,
              font: { family: FONT, size: 13.89 },
              callback: (v: any) => String(v),
            },
          },
        },
      },
    } as any);
    return () => chart.destroy();
  }, []);
  return <canvas ref={ref} width={1000} height={1000} style={{ display: "block" }} />;
}
